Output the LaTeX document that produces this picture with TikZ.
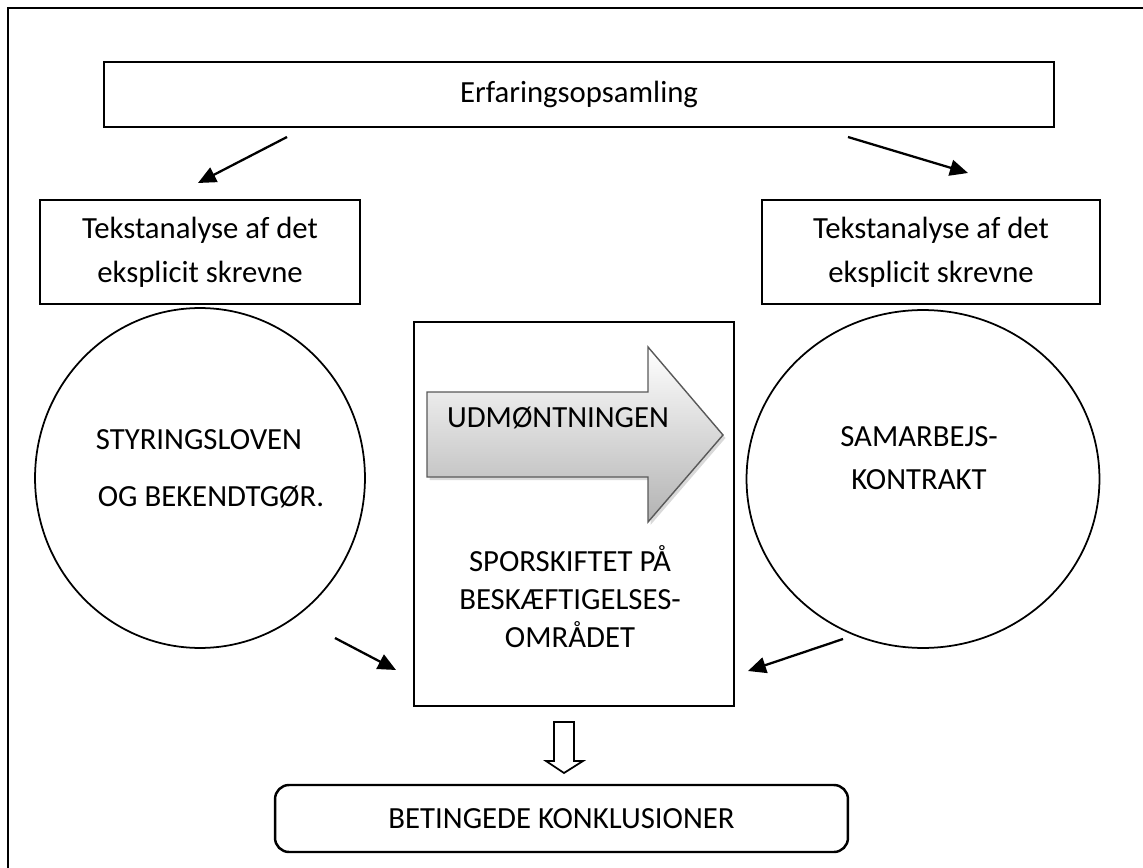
\documentclass[tikz,border=0pt]{standalone}
\usepackage{fontspec}
\setmainfont{Carlito}
\usetikzlibrary{arrows.meta}
\usetikzlibrary{positioning}
\usetikzlibrary{calc}
\usetikzlibrary{shapes.geometric}
\usetikzlibrary{shadows}

\begin{document}
\begin{tikzpicture}[
        x=0.02cm, y=-0.02cm,
        every node/.style={font=\fontsize{17.5}{20}\selectfont},
        box/.style={rectangle,draw=black,line width=1.4pt,align=center,inner sep=0pt},
        ring/.style={ellipse,draw=black,line width=1pt,inner sep=0pt},
        txt/.style={align=center,inner sep=0pt},
        link/.style={line width=1.3pt,-{Triangle[length=0.36cm,width=0.32cm]}}
      ]
      \useasboundingbox (0,0) rectangle (1143,868);
      \draw[line width=1.7pt] (8,868) -- (8,8) -- (1143,8);

      % top row
      \node (erf) [box,minimum width=19cm,minimum height=1.3cm] at (579,94.5) {Erfaringsopsamling};
      \node (tekstL) [box,minimum width=6.4cm,minimum height=2.08cm,
                      font=\fontsize{17.5}{25}\selectfont] at (200,252) {Tekstanalyse af det\\eksplicit skrevne};
      \node (tekstR) [box,minimum width=6.76cm,minimum height=2.08cm,
                      font=\fontsize{17.5}{25}\selectfont] at (931,252) {Tekstanalyse af det\\eksplicit skrevne};

      % circles
      \node (ringL) [ring,minimum width=6.6cm,minimum height=6.8cm] at (200,478) {};
      \node (ringR) [ring,minimum width=7.06cm,minimum height=6.76cm] at (923,479) {};
      \node (styr) [txt] at (199,440) {STYRINGSLOVEN};
      \node (bek) [txt] at (211,497) {OG BEKENDTGØR.};
      \node (samk) [txt,font=\fontsize{17.5}{24.5}\selectfont] at (919,458) {SAMARBEJS-\\KONTRAKT};

      % middle
      \node (ctr) [box,minimum width=6.4cm,minimum height=7.68cm] at (574,514) {};
      \path[draw=gray!70!black,line width=0.8pt,top color=white,bottom color=gray!60,
            drop shadow={shadow xshift=0.05cm,shadow yshift=-0.06cm,opacity=0.3}]
        (427,392) -- (648,392) -- (648,347) -- (723,435) -- (648,522) -- (648,477) -- (427,477) -- cycle;
      \node (udm) [txt] at (558,418) {UDMØNTNINGEN};
      \node (spor) [txt,font=\fontsize{17.5}{21.6}\selectfont] at (570,597) {SPORSKIFTET PÅ\\BESKÆFTIGELSES-\\OMRÅDET};

      % bottom
      \node (concl) [box,rounded corners=0.28cm,minimum width=11.46cm,minimum height=1.34cm] at (561.5,818.5) {BETINGEDE KONKLUSIONER};
      \draw[line width=1pt] (554,722) -- (574,722) -- (574,761) -- (583,761) -- (564,773) -- (546,761) -- (554,761) -- cycle;

      % arrows
      \coordinate (erfL) at (287,137);  \coordinate (tekL) at (198,183);
      \coordinate (erfR) at (848,137);  \coordinate (tekR) at (968,173);
      \coordinate (ringLo) at (335,638); \coordinate (ctrL) at (396,670);
      \coordinate (ringRo) at (843,639); \coordinate (ctrR) at (748,671);
      \draw[link] (erfL) -- (tekL);
      \draw[link] (erfR) -- (tekR);
      \draw[link] (ringLo) -- (ctrL);
      \draw[link] (ringRo) -- (ctrR);

    \end{tikzpicture}
\end{document}
